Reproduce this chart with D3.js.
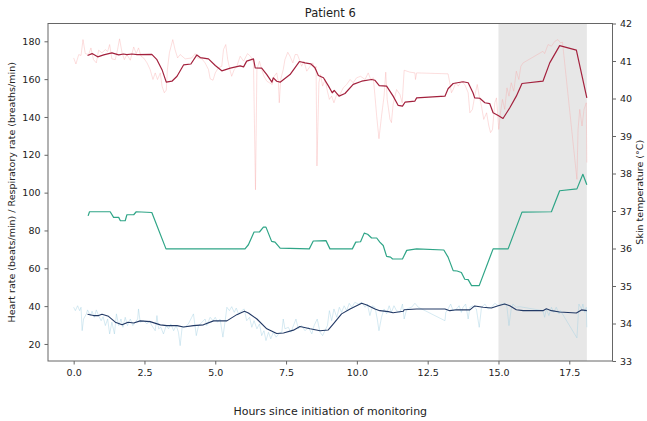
<html>
<head>
<meta charset="utf-8">
<script src="https://cdnjs.cloudflare.com/ajax/libs/d3/7.8.5/d3.min.js"></script>
<style>
  body { margin: 0; background: #fff; }
  svg text { font-family: "DejaVu Sans", sans-serif; fill: #222; }
</style>
</head>
<body>
<svg id="chart" width="647" height="421"></svg>
<script>
// values, [hours, value]
const hrRaw = [[0,171.2],[0.08,168],[0.18,173],[0.26,172.5],[0.33,180.9],[0.41,173.5],[0.53,173],[0.61,176.5],[0.7,170.3],[0.8,168.6],[0.88,175.3],[1.0,173.9],[1.12,175.6],[1.2,174.6],[1.27,178.3],[1.35,170.7],[1.47,170.3],[1.55,175.6],[1.62,181.3],[1.71,173.9],[1.79,170.3],[1.88,173],[2.0,170],[2.12,177],[2.21,173.5],[2.29,176.5],[2.38,172.1],[2.47,171.2],[2.59,168.6],[2.7,165.1],[2.8,159.8],[2.88,163.3],[2.96,159.8],[3.06,163.3],[3.12,156.3],[3.2,152.8],[3.27,154.2],[3.31,165.1],[3.38,173.9],[3.5,180.9],[3.58,175.6],[3.67,171.2],[3.76,173],[3.94,170.7],[4.17,171.2],[4.29,173.5],[4.37,171.2],[4.53,170.7],[4.64,168.6],[4.76,165.1],[4.82,160.2],[4.92,159.4],[5.0,163.3],[5.11,166],[5.23,166.8],[5.29,175.6],[5.37,178.3],[5.44,170.3],[5.53,164.2],[5.58,161.5],[5.67,165.1],[5.76,166.8],[5.88,172.1],[6.0,169.5],[6.14,173.5],[6.26,171.8],[6.35,168.6],[6.42,101.5],[6.47,165.1],[6.56,169.5],[6.64,165.1],[6.72,161.5],[6.82,158.9],[6.91,158.1],[7.01,157.2],[7.08,161.5],[7.17,163.3],[7.23,158.1],[7.26,147.5],[7.31,159.8],[7.4,165.1],[7.46,170.3],[7.56,174.2],[7.64,172.1],[7.74,168.6],[7.82,173],[7.9,173],[7.97,170.3],[8.05,166.8],[8.13,169.5],[8.23,164.2],[8.35,166.8],[8.44,168.6],[8.52,165.1],[8.56,166.8],[8.59,114.1],[8.66,158.1],[8.72,162.4],[8.79,156.3],[8.88,159.8],[8.96,153.6],[9.03,149.3],[9.11,151],[9.19,147.5],[9.29,151.9],[9.4,151.9],[9.52,155.4],[9.64,157.2],[9.76,159.8],[9.87,158.1],[9.99,160.7],[10.13,161.5],[10.29,159.8],[10.4,163.3],[10.49,159.8],[10.58,160.7],[10.64,151],[10.7,140.4],[10.78,128.5],[10.87,140.4],[10.96,151],[11.02,163.7],[11.07,149.3],[11.17,138.7],[11.22,137],[11.28,146.6],[11.4,154.5],[11.52,151.9],[11.6,147.5],[11.67,164.7],[11.87,163.7],[12.05,163.3],[12.07,159.8],[12.11,163.3],[13.22,162.8],[13.28,158.1],[13.34,152.8],[13.4,154.5],[13.49,158.1],[13.58,156.3],[13.69,158.9],[13.81,157.2],[13.93,152.8],[13.99,142.2],[14.08,144],[14.16,151],[14.25,157.2],[14.32,151],[14.4,145.7],[14.48,138.7],[14.58,142.2],[14.66,135.2],[14.72,131.7],[14.79,133.4],[14.87,147.5],[14.93,150.1],[15.01,133.4],[15.07,142.2],[15.14,149.3],[15.22,144],[15.3,155.4],[15.37,151],[15.45,158.1],[15.54,153.6],[15.63,164.2],[15.72,159.8],[15.79,166.8],[15.87,168.6],[16.57,174.7],[16.63,173.5],[16.75,178.3],[16.87,177.4],[16.99,180],[17.1,180.9],[17.19,179.2],[17.26,179.5],[17.77,107],[17.81,133.4],[17.87,144],[17.95,135.2],[18.02,144],[18.1,147.5],[18.12,115.9]];

const hrSmooth = [[0.49,172.5],[0.65,173.5],[0.85,171.8],[1.06,172.8],[1.35,173.9],[1.59,172.8],[1.76,173.3],[1.88,173],[2.06,173.3],[2.24,173],[2.76,173.1],[2.94,170.3],[3.12,165],[3.27,158.4],[3.47,158.9],[3.65,161.5],[3.88,167.5],[4.14,168],[4.35,172.8],[4.47,171.4],[4.76,170.7],[5.0,167.2],[5.23,164.4],[5.53,165.8],[5.88,167],[6.0,166.5],[6.11,169.5],[6.35,170.7],[6.41,166],[6.64,165.8],[6.82,162.4],[7.0,158.4],[7.05,160.7],[7.17,158.9],[7.29,158.4],[7.64,162.4],[7.97,169.3],[8.17,168.6],[8.37,168.1],[8.52,166],[8.64,161.9],[8.82,160.7],[9.0,156.3],[9.13,152.8],[9.2,154],[9.37,151],[9.58,152.4],[9.87,157.2],[10.17,158.9],[10.52,159.8],[10.64,159.4],[10.79,156.6],[11.05,156.3],[11.28,151],[11.46,146.1],[11.61,145.7],[11.7,147.8],[12.05,148.4],[12.11,150.1],[13.11,151],[13.22,154.9],[13.4,157.7],[13.75,158.6],[13.93,158.1],[14.1,152.8],[14.16,150.1],[14.34,149.9],[14.52,147.5],[14.69,147.1],[14.81,142.2],[14.99,140.8],[15.16,139.2],[15.4,144.9],[15.63,151],[15.83,157.7],[16.57,158.9],[16.81,168.6],[17.16,177.7],[17.75,175.3],[18.12,150.1]];

const skinTemp = [[0.51,36.87],[0.56,36.98],[1.29,36.98],[1.41,36.83],[1.59,36.83],[1.65,36.74],[1.82,36.74],[1.88,36.9],[2.12,36.9],[2.21,36.98],[2.76,36.96],[3.26,35.99],[6.05,35.99],[6.17,36.1],[6.37,36.44],[6.56,36.44],[6.7,36.57],[6.79,36.57],[6.99,36.19],[7.11,36.17],[7.29,36.01],[8.32,35.99],[8.46,36.2],[8.91,36.21],[9.05,35.99],[9.84,35.99],[9.96,36.17],[10.13,36.18],[10.26,36.41],[10.38,36.38],[10.52,36.28],[10.7,36.28],[10.81,36.17],[10.93,36.08],[11.05,35.79],[11.19,35.77],[11.26,35.72],[11.61,35.72],[11.76,35.95],[12.11,35.99],[13.07,35.96],[13.22,35.77],[13.4,35.41],[13.54,35.4],[13.69,35.36],[13.81,35.18],[13.93,35.17],[14.05,35.01],[14.32,35.01],[14.81,35.99],[15.34,35.99],[15.83,36.97],[16.87,36.98],[17.16,37.54],[17.77,37.59],[17.98,37.98],[18.12,37.7]];

const respRaw = [[0,39.4],[0.06,37.6],[0.14,40.2],[0.21,37.6],[0.26,39.4],[0.3,27.0],[0.35,33.2],[0.45,35.9],[0.49,38.0],[0.59,35.0],[0.65,37.3],[0.73,34.1],[0.8,38.0],[0.88,35.0],[0.97,32.3],[1.04,34.4],[1.12,29.7],[1.2,33.2],[1.27,25.3],[1.35,31.5],[1.44,25.3],[1.51,35.9],[1.59,29.7],[1.67,33.2],[1.74,28.8],[1.82,34.1],[1.9,29.7],[2.0,33.2],[2.09,29.7],[2.18,31.5],[2.26,33.2],[2.29,38.5],[2.35,31.5],[2.47,32.3],[2.59,30.6],[2.68,32.3],[2.76,29.7],[2.88,27.0],[2.94,35.0],[3.0,28.0],[3.08,28.8],[3.17,25.3],[3.27,29.7],[3.35,28.0],[3.43,30.6],[3.53,27.0],[3.62,29.7],[3.7,26.2],[3.76,19.1],[3.83,28.8],[3.94,29.1],[4.05,30.6],[4.17,34.1],[4.23,35.9],[4.33,24.4],[4.41,29.7],[4.53,31.5],[4.64,33.2],[4.7,29.7],[4.82,34.1],[4.92,32.3],[5.0,34.1],[5.08,31.5],[5.17,33.2],[5.27,23.6],[5.35,32.3],[5.41,39.4],[5.5,37.6],[5.58,39.7],[5.67,36.7],[5.74,39.0],[5.82,35.9],[5.94,37.6],[6.02,38.5],[6.11,32.3],[6.21,34.1],[6.29,28.8],[6.37,32.3],[6.47,28.0],[6.56,30.6],[6.64,24.4],[6.72,27.0],[6.79,21.8],[6.88,26.2],[6.96,22.7],[7.05,26.2],[7.15,23.6],[7.26,25.7],[7.35,26.2],[7.4,33.2],[7.46,28.0],[7.58,28.8],[7.67,26.2],[7.76,29.7],[7.85,33.2],[7.93,28.0],[8.05,29.7],[8.17,27.0],[8.29,28.8],[8.41,25.3],[8.49,29.7],[8.6,33.2],[8.7,26.2],[8.79,24.4],[8.87,27.0],[8.96,29.7],[9.03,37.6],[9.11,32.3],[9.19,38.5],[9.29,34.1],[9.38,39.4],[9.46,36.7],[9.55,40.2],[9.64,37.6],[9.73,41.5],[9.82,39.4],[9.93,42.0],[10.05,41.1],[10.17,42.0],[10.29,39.4],[10.37,41.1],[10.46,35.0],[10.55,40.2],[10.64,39.4],[10.72,33.2],[10.78,27.0],[10.87,34.1],[10.96,38.5],[11.05,35.9],[11.14,40.2],[11.22,36.7],[11.31,40.2],[11.4,37.6],[11.52,36.7],[11.61,41.1],[11.67,33.2],[11.76,38.5],[11.93,39.4],[12.05,41.5],[12.17,39.4],[13.11,32.3],[13.14,36.7],[13.22,38.5],[13.31,41.1],[13.4,37.6],[13.52,38.5],[13.61,40.2],[13.69,36.7],[13.75,39.4],[13.84,41.1],[13.93,33.2],[13.99,39.4],[14.1,40.2],[14.22,38.5],[14.32,28.8],[14.4,39.4],[14.52,41.1],[14.63,38.5],[14.75,39.4],[14.87,41.5],[14.99,40.2],[15.11,41.1],[15.22,41.5],[15.3,39.4],[15.37,29.7],[15.45,38.5],[15.51,41.1],[15.63,39.4],[15.75,39.7],[16.57,37.6],[16.63,34.1],[16.69,38.5],[16.78,35.0],[16.87,39.4],[16.95,36.7],[17.04,39.4],[17.14,35.9],[17.19,37.6],[17.77,23.2],[17.84,41.1],[17.93,38.5],[17.98,41.1],[18.04,36.7],[18.1,39.4],[18.12,28.8]];

const respSmooth = [[0.49,35.7],[0.7,35.0],[0.88,35.0],[1.0,35.7],[1.23,34.6],[1.47,31.5],[1.71,30.1],[1.92,31.5],[2.12,31.1],[2.35,32.2],[2.7,31.8],[3.06,30.1],[3.29,29.7],[3.65,29.7],[3.88,29.0],[4.23,29.7],[4.58,30.1],[4.94,32.2],[5.41,32.2],[5.76,35.5],[6.03,37.3],[6.17,36.4],[6.47,33.2],[6.82,28.0],[7.17,25.5],[7.41,25.8],[7.76,27.3],[7.99,29.2],[8.35,28.0],[8.7,27.0],[8.99,27.4],[9.17,30.6],[9.46,35.9],[9.76,38.5],[10.17,41.5],[10.35,40.6],[10.64,38.5],[10.81,37.6],[11.11,37.1],[11.28,36.5],[11.64,37.3],[11.67,38.1],[12.11,38.5],[13.11,38.5],[13.28,37.6],[13.52,38.1],[13.99,38.0],[14.16,40.1],[14.46,39.4],[14.75,39.0],[14.99,40.2],[15.22,41.1],[15.4,40.2],[15.63,38.1],[15.87,37.6],[16.57,37.6],[16.69,38.6],[16.87,37.6],[17.16,36.9],[17.75,36.4],[17.93,38.0],[18.12,37.6]];

const shadedSpan = [15.0, 18.12];
const xTicks = [0, 2.5, 5, 7.5, 10, 12.5, 15, 17.5];
const leftTicks = [20, 40, 60, 80, 100, 120, 140, 160, 180];
const rightTicks = [33, 34, 35, 36, 37, 38, 39, 40, 41, 42];

const title = "Patient 6";
const xLabel = "Hours since initiation of monitoring";
const leftLabel = "Heart rate (beats/min) / Respiratory rate (breaths/min)";
const rightLabel = "Skin temperature (°C)";

const W = 647, H = 421;
const margin = {top: 23.5, right: 34.5, bottom: 60, left: 48};
const iw = W - margin.left - margin.right;
const ih = H - margin.top - margin.bottom;

const svg = d3.select("#chart");
const g = svg.append("g").attr("transform", `translate(${margin.left},${margin.top})`);

// matplotlib-like 5% padding around the data
const padded = (lo, hi) => { const p = (hi - lo) * 0.05; return [lo - p, hi + p]; };

const allHours = [...hrRaw, ...respRaw].map(d => d[0]);
const x = d3.scaleLinear().domain(padded(d3.min(allHours), d3.max(allHours))).range([0, iw]);

const leftVals = [...hrRaw, ...hrSmooth, ...respRaw, ...respSmooth].map(d => d[1]);
const yL = d3.scaleLinear().domain(padded(d3.min(leftVals), d3.max(leftVals))).range([ih, 0]);
const yR = d3.scaleLinear().domain([33, 42]).range([ih, 0]);

// shaded span
g.append("rect")
  .attr("x", x(shadedSpan[0]))
  .attr("y", 0)
  .attr("width", x(shadedSpan[1]) - x(shadedSpan[0]))
  .attr("height", ih)
  .attr("fill", "#e7e7e7");

const lineL = d3.line().x(d => x(d[0])).y(d => yL(d[1]));
const lineR = d3.line().x(d => x(d[0])).y(d => yR(d[1]));

const series = [
  {data: hrRaw, gen: lineL, color: "#f7a3a3", width: 0.6, opacity: 0.6},
  {data: hrSmooth, gen: lineL, color: "#a3213d", width: 1.2, opacity: 1},
  {data: respRaw, gen: lineL, color: "#a3d1e2", width: 0.6, opacity: 0.75},
  {data: respSmooth, gen: lineL, color: "#233a66", width: 1.1, opacity: 1},
  {data: skinTemp, gen: lineR, color: "#2fa587", width: 1.2, opacity: 1}
];

g.selectAll("path.series")
  .data(series)
  .join("path")
  .attr("class", "series")
  .attr("d", d => d.gen(d.data))
  .attr("fill", "none")
  .attr("stroke", d => d.color)
  .attr("stroke-width", d => d.width)
  .attr("stroke-opacity", d => d.opacity)
  .attr("stroke-linejoin", "round");

// axes
const styleAxis = sel => {
  sel.select(".domain").remove();
  sel.selectAll(".tick line").attr("stroke", "#555").attr("stroke-width", 0.9);
  sel.selectAll(".tick text").attr("font-size", "9.5px").attr("fill", "#222");
};

g.append("g")
  .attr("transform", `translate(0,${ih})`)
  .call(d3.axisBottom(x).tickValues(xTicks).tickFormat(d3.format(".1f")).tickSize(3.5).tickPadding(5))
  .call(styleAxis);

g.append("g")
  .call(d3.axisLeft(yL).tickValues(leftTicks).tickSize(3.5).tickPadding(4))
  .call(styleAxis);

g.append("g")
  .attr("transform", `translate(${iw},0)`)
  .call(d3.axisRight(yR).tickValues(rightTicks).tickSize(3.5).tickPadding(4))
  .call(styleAxis);

// frame
g.append("rect")
  .attr("width", iw).attr("height", ih)
  .attr("fill", "none")
  .attr("stroke", "#666")
  .attr("stroke-width", 1);

// labels
svg.append("text")
  .attr("x", margin.left + iw / 2).attr("y", 17)
  .attr("text-anchor", "middle").attr("font-size", "11.5px")
  .text(title);

svg.append("text")
  .attr("x", margin.left + iw / 2).attr("y", 415)
  .attr("text-anchor", "middle").attr("font-size", "11px")
  .text(xLabel);

svg.append("text")
  .attr("transform", `translate(15,${margin.top + ih / 2}) rotate(-90)`)
  .attr("text-anchor", "middle").attr("font-size", "9.5px")
  .text(leftLabel);

svg.append("text")
  .attr("transform", `translate(643,${margin.top + ih / 2}) rotate(-90)`)
  .attr("text-anchor", "middle").attr("font-size", "9.5px")
  .text(rightLabel);
</script>
</body>
</html>
